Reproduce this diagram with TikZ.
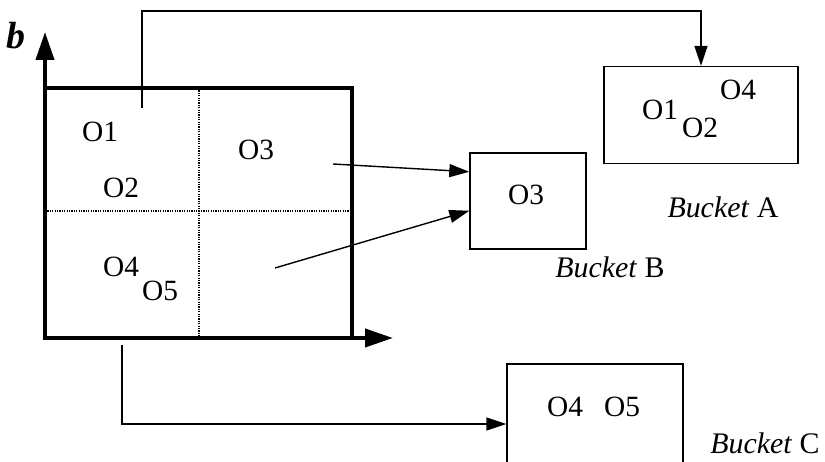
\documentclass[tikz,border=0pt]{standalone}
\usepackage{fontspec}
\setmainfont{Liberation Serif}
\usetikzlibrary{arrows.meta,calc}
\begin{document}
\begin{tikzpicture}[x=1bp,y=-1bp,
  txt/.style={inner sep=0pt, font=\fontsize{29.5}{32}\selectfont},
  lbl/.style={inner sep=0pt, font=\fontsize{30}{34}\selectfont},
  bucket/.style={draw, line width=1.4bp, inner sep=0pt},
  conn/.style={line width=1.4bp, -{Triangle[length=20bp,width=13bp]}},
  axis/.style={line width=4bp, line join=miter, {Triangle[length=28bp,width=18bp]}-{Triangle[length=28bp,width=18bp]}},
  gridline/.style={line width=1.2bp, dash pattern=on 1.2bp off 1.2bp}]
\useasboundingbox (0,0) rectangle (825,462);
\clip (0,0) rectangle (825,462);
% axes and grid
\coordinate (o) at (45,338);
\coordinate (ytip) at (45,32);
\coordinate (xtip) at (393,338);
\draw[axis] (ytip) -- (o) -- (xtip);
\draw[line width=4bp, line join=miter] (43,88) -- (352,88) -- (352,340);
\draw[gridline] (199,88) -- (199,338);
\draw[gridline] (45,211) -- (352,211);
\node[inner sep=0pt, font=\fontsize{38}{42}\selectfont\bfseries\itshape] (blbl) at (16,36) {b};
% objects in the grid
\node[txt] (g1) at (100,132) {O1};
\node[txt] (g2) at (121,188) {O2};
\node[txt] (g3) at (256,150) {O3};
\node[txt] (g4) at (121,267) {O4};
\node[txt] (g5) at (160,291) {O5};
% buckets
\node[bucket, minimum width=194bp, minimum height=97bp] (A) at (701,115) {};
\node[txt] (a1) at (660,110) {O1};
\node[txt] (a2) at (700,128) {O2};
\node[txt] (a4) at (738,90) {O4};
\node[lbl] (la) at (723,207) {\textit{Bucket} A};
\node[bucket, minimum width=116bp, minimum height=96bp] (B) at (528,201) {};
\node[txt] (b3) at (526,195) {O3};
\node[lbl] (lb) at (610,267) {\textit{Bucket} B};
\node[bucket, minimum width=176bp, minimum height=120bp] (C) at (595,424) {};
\node[txt] (c4) at (565,407) {O4};
\node[txt] (c5) at (622,407) {O5};
\node[lbl] (lc) at (765,443) {\textit{Bucket} C};
% connectors
\coordinate (sA) at (142,108);
\coordinate (kA) at (142,11);
\draw[conn] (sA) -- (kA) -| (A.north);
\coordinate (s1) at (333,164);
\coordinate (s2) at (275,268);
\draw[conn] (s1) -- ($(B.north west)!0.2!(B.south west)$);
\draw[conn] (s2) -- ($(B.north west)!0.6!(B.south west)$);
\coordinate (sC) at (122,345);
\draw[conn] (sC) |- (C.west);
\end{tikzpicture}
\end{document}
